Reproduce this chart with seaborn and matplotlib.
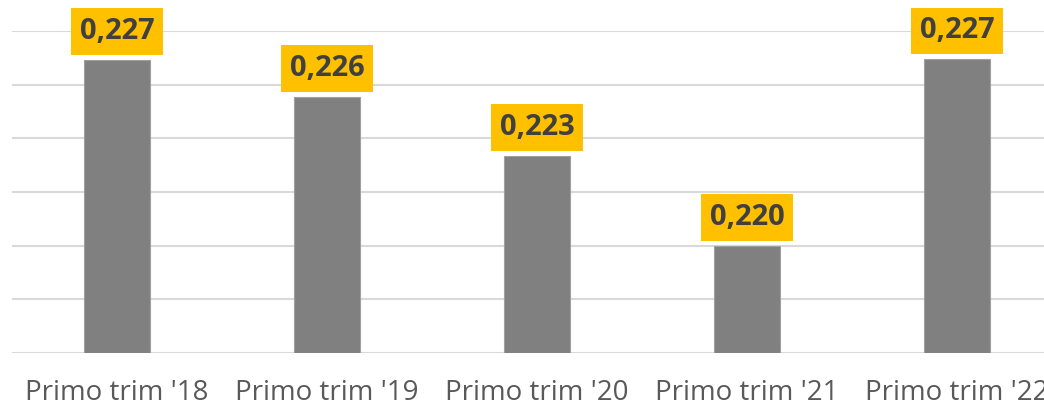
import pandas as pd
import seaborn as sns
import matplotlib.pyplot as plt

categories = ["Primo trim '18", "Primo trim '19", "Primo trim '20", "Primo trim '21", "Primo trim '22"]
values = [0.22692, 0.22555, 0.22334, 0.22000, 0.22695]

df = pd.DataFrame({"periodo": categories, "indice": values})

sns.set_theme(style="white")
plt.rcParams['font.family'] = ['Open Sans', 'DejaVu Sans']

fig = plt.figure(figsize=(10.44, 4.07), dpi=100)
ax = fig.add_axes([12 / 1044, 54 / 407, 1050 / 1044, 322 / 407])

sns.barplot(data=df, x="periodo", y="indice", color="#808080", width=0.31,
            saturation=1, edgecolor="#a0a0a0", linewidth=0.8, ax=ax, zorder=3)

ax.set_ylim(0.216, 0.228)
ax.set_xlim(-0.5, 4.5)
ax.set_yticks([0.216 + 0.002 * i for i in range(7)])
ax.yaxis.grid(True, color="#d9d9d9", linewidth=1.5, zorder=0)
ax.set_yticklabels([])
ax.tick_params(axis="y", length=0)
ax.tick_params(axis="x", length=0, pad=19, labelsize=20, labelcolor="#595959")
ax.set_xlabel("")
ax.set_ylabel("")
for s in ["top", "right", "left", "bottom"]:
    ax.spines[s].set_visible(False)

# etichette con riquadro giallo
for i, v in enumerate(values):
    ax.annotate(f"{v:.3f}".replace(".", ","), xy=(i, v), xytext=(0, 10),
                textcoords="offset points", ha="center", va="bottom",
                fontsize=21, fontweight="bold", color="#404040",
                bbox=dict(boxstyle="square,pad=0.3", fc="#FFC000", ec="none"),
                annotation_clip=False, zorder=5)

fig.savefig("out.png", dpi=100)
